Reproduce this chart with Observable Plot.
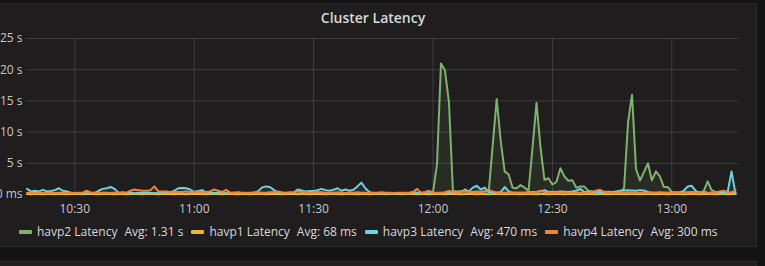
<!DOCTYPE html>
<html>
<head>
<meta charset="utf-8">
<script src="https://cdn.jsdelivr.net/npm/d3@7"></script>
<script src="https://cdn.jsdelivr.net/npm/@observablehq/plot@0.6"></script>
<style>
  html, body { margin: 0; padding: 0; background: #141414; width: 765px; height: 266px; overflow: hidden; font-family: "Open Sans", sans-serif; }
  #panel { position: absolute; left: -10px; top: 3px; width: 767px; height: 244px; background: #1f1d1d; border: 1px solid #292929; box-sizing: border-box; }
  #next { position: absolute; left: -10px; top: 261px; width: 767px; height: 20px; background: #1f1d1d; border: 1px solid #292929; box-sizing: border-box; }
  #title { position: absolute; left: 0; top: 8px; width: 746px; text-align: center; color: #d8d9da; font-size: 14px; font-weight: 600; }
  #chart { position: absolute; left: 0; top: 30px; }
  #legend { position: absolute; left: 19px; top: 223px; display: flex; align-items: center; color: #d8d9da; font-size: 12px; white-space: pre; }
  .item { display: flex; align-items: center; margin-right: 8px; }
  .sw { width: 13px; height: 4px; border-radius: 1px; margin-right: 5px; }
  .avg { margin-left: 7px; }
</style>
</head>
<body>
<div id="panel"></div>
<div id="next"></div>
<div id="title">Cluster Latency</div>
<div id="chart"></div>
<div id="legend"></div>
<script>
// Time axis: one sample per minute starting at 10:18 (UTC used as wall-clock)
const startTime = "2017-01-01T10:18:00Z";
const stepMinutes = 1;
const xDomain = ["2017-01-01T10:17:52Z", "2017-01-01T13:16:45Z"];
const xTicks = ["2017-01-01T10:30:00Z", "2017-01-01T11:00:00Z", "2017-01-01T11:30:00Z", "2017-01-01T12:00:00Z", "2017-01-01T12:30:00Z", "2017-01-01T13:00:00Z"];
const yTicks = [0, 5, 10, 15, 20, 25];

const seriesNames = ["havp2 Latency", "havp1 Latency", "havp3 Latency", "havp4 Latency"];
const seriesColors = ["#7EB26D", "#EAB839", "#6ED0E0", "#EF843C"];
const seriesAvg = ["1.31 s", "68 ms", "470 ms", "300 ms"];

// values in seconds
const havp2 = [
  0.15,0.12,0.14,0.10,0.12,0.15,0.13,0.12,0.14,0.12,
  0.13,0.15,0.12,0.10,0.14,0.12,0.13,0.15,0.12,0.14,
  0.12,0.10,0.13,0.15,0.14,0.12,0.13,0.12,0.15,0.13,
  0.12,0.14,0.10,0.12,0.15,0.13,0.12,0.14,0.12,0.13,
  0.15,0.12,0.10,0.14,0.12,0.13,0.15,0.12,0.14,0.12,
  0.10,0.13,0.15,0.14,0.12,0.13,0.12,0.15,0.13,0.12,
  0.14,0.10,0.12,0.15,0.13,0.12,0.14,0.12,0.13,0.15,
  0.12,0.10,0.14,0.12,0.13,0.15,0.12,0.14,0.12,0.10,
  0.13,0.15,0.14,0.12,0.13,0.12,0.15,0.13,0.12,0.14,
  0.10,0.12,0.15,0.13,0.12,0.14,0.12,0.13,0.15,0.12,
  0.14,0.15,
  0.3,4.9,21.0,19.9,14.8,0.6,
  0.5,0.55,0.5,0.4,0.4,0.5,0.45,0.5,
  0.5,7.9,15.3,8.65,3.7,3.2,1.07,1.0,1.5,1.1,0.6,
  7.5,14.7,7.6,2.35,2.6,1.6,2.0,4.2,2.9,2.2,2.3,1.07,1.3,1.3,0.6,
  0.5,0.45,0.4,0.4,0.45,0.4,0.4,0.4,
  1.0,11.6,16.0,4.1,2.25,3.6,5.0,2.25,3.7,2.9,1.2,1.2,0.4,
  0.35,0.35,0.35,0.35,0.35,0.35,0.35,
  0.5,2.1,0.7,0.4,0.35,0.3,0.3,0.3,0.3
];
const havp1 = [
  0.07,0.06,0.08,0.07,0.06,0.07,0.08,0.06,0.07,0.07,
  0.06,0.08,0.07,0.07,0.06,0.07,0.08,0.07,0.06,0.07,
  0.07,0.08,0.06,0.07,0.07,0.06,0.08,0.07,0.07,0.06,
  0.07,0.08,0.07,0.06,0.07,0.07,0.08,0.06,0.07,0.07,
  0.06,0.07,0.08,0.07,0.07,0.06,0.07,0.08,0.07,0.06,
  0.07,0.07,0.08,0.06,0.07,0.07,0.06,0.08,0.07,0.07,
  0.06,0.07,0.08,0.07,0.06,0.07,0.07,0.08,0.06,0.07,
  0.07,0.06,0.08,0.07,0.07,0.06,0.07,0.08,0.07,0.06,
  0.07,0.07,0.08,0.06,0.07,0.07,0.06,0.08,0.07,0.07,
  0.06,0.07,0.08,0.07,0.06,0.07,0.07,0.08,0.06,0.07,
  0.07,0.06,0.08,0.07,0.07,0.06,0.07,0.08,0.07,0.06,
  0.07,0.07,0.08,0.06,0.07,0.07,0.06,0.08,0.07,0.07,
  0.06,0.07,0.08,0.07,0.06,0.07,0.07,0.08,0.06,0.07,
  0.07,0.06,0.08,0.07,0.07,0.06,0.07,0.08,0.07,0.06,
  0.07,0.07,0.08,0.06,0.07,0.07,0.06,0.08,0.07,0.07,
  0.06,0.07,0.08,0.07,0.06,0.07,0.07,0.08,0.06,0.07,
  0.07,0.06,0.08,0.07,0.07,0.06,0.07,0.08,0.07,0.06,
  0.07,0.07,0.08,0.06,0.07,0.07,0.06,0.08,0.07
];
const havp3 = [
  0.9,0.5,0.6,0.5,0.75,0.5,0.55,0.7,1.0,0.6,0.5,
  0.3,0.25,0.2,0.25,0.2,0.3,0.25,
  0.6,0.9,1.0,1.2,0.9,0.3,
  0.3,0.25,0.3,0.2,0.3,0.25,0.3,0.3,0.2,0.25,0.3,0.3,0.35,
  0.6,1.0,1.05,1.0,0.8,0.4,0.55,0.7,0.35,
  0.3,0.25,0.3,0.3,0.2,0.25,0.3,0.3,0.25,0.2,0.3,0.3,
  0.5,1.1,1.3,1.2,0.75,0.3,
  0.25,0.25,0.2,0.3,
  0.8,0.65,0.5,0.55,0.55,0.7,0.9,0.7,0.6,0.75,1.0,0.6,0.8,0.6,0.75,1.3,1.9,1.0,0.4,
  0.2,0.25,0.2,0.2,0.15,0.2,0.2,0.25,0.2,0.2,
  0.4,0.3,0.2,0.25,0.5,0.3,0.25,0.2,0.25,0.3,0.25,
  0.3,0.4,0.8,0.5,1.1,1.4,0.8,1.1,0.4,
  0.3,0.3,0.4,1.2,0.5,0.3,0.3,0.3,0.3,
  0.35,0.4,0.4,0.5,0.7,0.4,
  0.45,0.4,0.5,0.45,0.4,0.5,0.6,0.9,0.4,0.4,0.45,0.4,0.4,0.45,0.4,0.4,
  0.5,0.6,0.65,0.7,0.65,0.6,0.7,0.65,0.4,
  0.3,0.3,0.3,0.3,0.3,0.3,0.3,0.3,
  0.6,1.3,1.4,0.6,
  0.25,0.25,0.25,0.3,0.25,0.25,0.3,0.3,3.7,0.1
];
const havp4 = [
  0.25,0.3,0.25,0.3,0.25,0.25,0.3,0.25,0.3,0.3,0.25,0.3,0.25,0.3,0.3,
  0.6,0.3,
  0.3,0.25,0.3,0.3,0.25,0.3,0.3,0.35,0.3,
  0.6,0.8,0.7,0.6,0.6,0.7,1.3,0.5,0.5,0.5,
  0.4,0.45,0.4,0.4,0.5,0.4,0.4,0.45,0.4,0.4,
  0.5,0.8,0.6,0.4,0.75,0.3,
  0.3,0.35,0.3,0.3,0.25,0.3,0.35,0.3,0.3,
  0.35,0.4,0.5,0.35,0.3,0.35,0.4,0.5,0.4,0.35,0.3,0.35,0.4,0.35,0.3,
  0.3,0.3,0.35,0.3,0.25,0.3,0.3,0.35,0.3,0.3,0.25,0.3,0.3,0.35,0.3,0.3,0.25,0.3,0.3,0.3,0.3,
  0.4,0.9,0.3,0.4,0.6,0.3,
  0.3,0.3,0.35,
  0.55,0.4,0.4,0.4,0.55,
  0.35,0.35,0.35,0.35,0.5,0.7,0.5,
  0.3,0.3,0.3,0.3,0.3,0.3,0.3,0.3,0.3,0.3,
  0.4,0.6,0.4,
  0.3,0.3,0.3,0.3,0.3,0.3,0.3,0.3,0.3,0.3,0.3,
  0.4,0.6,0.75,0.4,
  0.3,0.3,0.3,0.35,0.3,0.3,0.3,0.3,0.25,0.3,0.3,0.3,0.3,0.35,0.3,0.3,0.3,0.3,0.3,0.3,0.3,
  0.4,0.3,0.3,0.5,0.3,0.3,0.3,0.5,0.6,0.45,0.3,0.7
];

const seriesValues = [havp2, havp1, havp3, havp4];
const t0 = new Date(startTime).getTime();
const rows = [];
seriesValues.forEach((vals, s) => {
  vals.forEach((v, i) => rows.push({series: seriesNames[s], time: new Date(t0 + i * stepMinutes * 60000), value: v}));
});

const fmtY = d => d === 0 ? "0 ms" : d + " s";

const marks = [
  Plot.ruleY(yTicks, {stroke: "#ffffff", strokeOpacity: 0.14}),
  Plot.ruleX(xTicks.map(d => new Date(d)), {stroke: "#ffffff", strokeOpacity: 0.14})
];
seriesNames.forEach((name, s) => {
  const data = rows.filter(r => r.series === name);
  marks.push(Plot.areaY(data, {x: "time", y: "value", fill: seriesColors[s], fillOpacity: 0.1}));
});
seriesNames.forEach((name, s) => {
  const data = rows.filter(r => r.series === name);
  marks.push(Plot.lineY(data, {x: "time", y: "value", stroke: seriesColors[s], strokeWidth: 2, strokeLinejoin: "round"}));
});

const chart = Plot.plot({
  width: 765,
  height: 188,
  marginLeft: 26,
  marginRight: 27,
  marginTop: 8,
  marginBottom: 24,
  style: {background: "transparent", color: "#c8c8c8", fontSize: "12px", fontFamily: "Open Sans, sans-serif"},
  x: {type: "utc", domain: xDomain.map(d => new Date(d)), ticks: xTicks.map(d => new Date(d)), tickFormat: d3.utcFormat("%H:%M"), tickSize: 0, tickPadding: 10, label: null},
  y: {domain: [0, 25], ticks: yTicks, tickFormat: fmtY, tickSize: 0, tickPadding: 4, label: null},
  marks
});
document.getElementById("chart").appendChild(chart);

const legend = document.getElementById("legend");
seriesNames.forEach((name, s) => {
  const item = document.createElement("div");
  item.className = "item";
  item.innerHTML = `<div class="sw" style="background:${seriesColors[s]}"></div><span>${name}</span><span class="avg">Avg: ${seriesAvg[s]}</span>`;
  legend.appendChild(item);
});
</script>
</body>
</html>
